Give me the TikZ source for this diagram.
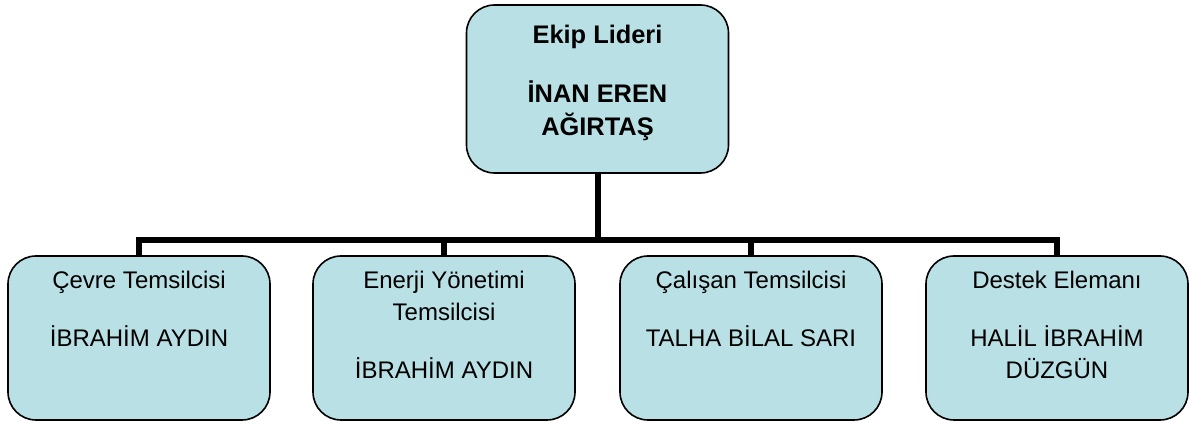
\documentclass[tikz,border=0pt]{standalone}
\usepackage{fontspec}
\setmainfont{Liberation Sans}
\usetikzlibrary{calc}

\definecolor{boxfill}{RGB}{185,224,228}

\tikzset{
    orgbox/.style={draw=black, line width=0.8pt, fill=boxfill, rounded corners=14pt,
        minimum width=131pt, inner sep=0pt},
    orgtext/.style={align=center, inner sep=0pt, anchor=base},
    bus/.style={line width=3pt}
}

\begin{document}
\begin{tikzpicture}[x=0.5pt,y=-0.5pt]
    % Frame of the picture:
    \useasboundingbox (0,0) rectangle (1191,421);

    % Boxes:
    % The top one is the team leader, the four below sit on one line:
    \node [orgbox, minimum height=84pt] (lead) at (597.5,89) {};
    \node [orgbox, minimum height=82pt] (cevre)  at (139,338)  {};
    \node [orgbox, minimum height=82pt] (enerji) at (444,338)  {};
    \node [orgbox, minimum height=82pt] (calisan) at (751,338) {};
    \node [orgbox, minimum height=82pt] (destek) at (1057,338) {};

    % Texts:
    % Placed on the baseline of their last line:
    \begin{scope}[font=\fontsize{12.7}{16.5}\selectfont\bfseries]
    \node [orgtext] (leadtext) at (597.5,136) {Ekip Lideri\\[13pt] İNAN EREN\\ AĞIRTAŞ};
    \end{scope}
    \begin{scope}[font=\fontsize{12}{16}\selectfont]
    \node [orgtext] (cevretext)   at (139,347)  {Çevre Temsilcisi\\[13pt] İBRAHİM AYDIN};
    \node [orgtext] (enerjitext)  at (444,379)  {Enerji Yönetimi\\ Temsilcisi\\[13pt] İBRAHİM AYDIN};
    \node [orgtext] (calisantext) at (751,347)  {Çalışan Temsilcisi\\[13pt] TALHA BİLAL SARI};
    \node [orgtext] (destektext)  at (1057,379) {Destek Elemanı\\[13pt] HALİL İBRAHİM\\ DÜZGÜN};
    \end{scope}

    % Connectors:
    \coordinate (hub) at (597.5,240);
    \draw [bus] (lead.south) -- (hub);
    \draw [bus] (cevre.north) |- (hub) -| (destek.north);
    \draw [bus] (enerji.north) -- (enerji.north |- hub);
    \draw [bus] (calisan.north) -- (calisan.north |- hub);
\end{tikzpicture}
\end{document}
